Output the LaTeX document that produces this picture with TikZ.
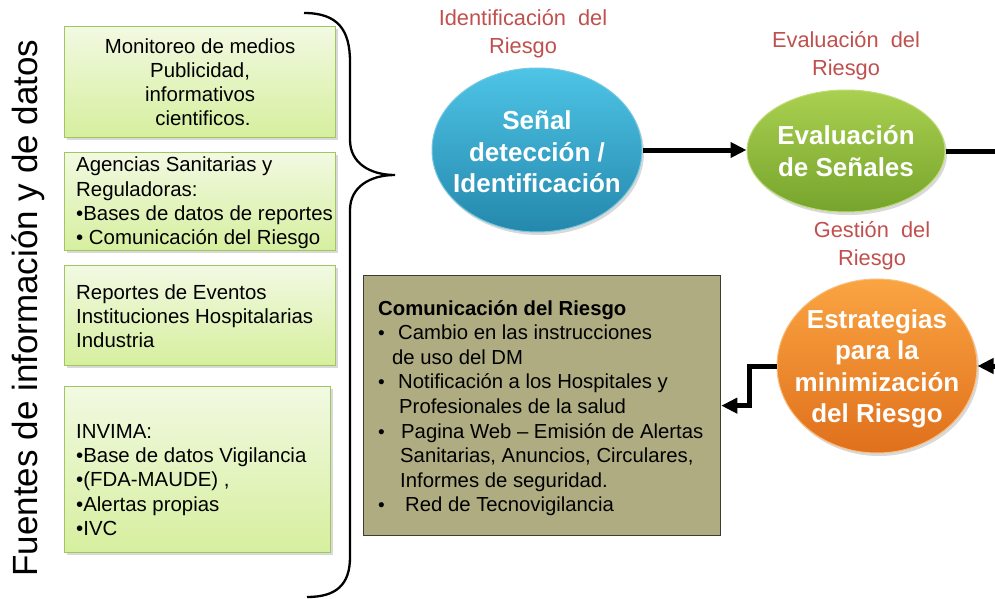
\documentclass[tikz,border=0pt]{standalone}
\usepackage{fontspec}
\setmainfont{Liberation Sans}
\usetikzlibrary{shapes.geometric,arrows.meta,shadows}
\definecolor{gtop}{RGB}{242,249,226}
\definecolor{gbot}{RGB}{214,239,158}
\definecolor{gline}{RGB}{160,198,96}
\definecolor{olivefill}{RGB}{174,172,128}
\definecolor{oliveline}{RGB}{60,60,50}
\definecolor{redlab}{RGB}{192,80,77}
\definecolor{bltop}{RGB}{78,196,230}
\definecolor{blbot}{RGB}{36,136,172}
\definecolor{bline}{RGB}{120,200,225}
\definecolor{grtop}{RGB}{170,208,80}
\definecolor{grbot}{RGB}{118,164,44}
\definecolor{grline}{RGB}{190,220,120}
\definecolor{ortop}{RGB}{250,164,66}
\definecolor{orbot}{RGB}{224,112,28}
\definecolor{orline}{RGB}{250,190,120}
\begin{document}
\begin{tikzpicture}[x=1pt,y=-1pt,
  gbox/.style={draw=gline, line width=1.2pt, top color=gtop, bottom color=gbot, inner sep=0pt,
    drop shadow={shadow xshift=2pt, shadow yshift=-2.5pt, opacity=0.3}},
  btext/.style={inner sep=0pt, font=\fontsize{20.4}{24.2}\selectfont, text=black},
  eshape/.style={ellipse, inner sep=0pt, line width=1pt,
    drop shadow={shadow xshift=2pt, shadow yshift=-3pt, opacity=0.3}},
  etext/.style={inner sep=0pt, align=center, text=white, font=\fontsize{26}{31.5}\selectfont\bfseries},
  rlab/.style={inner sep=0pt, align=center, text=redlab, font=\fontsize{21.8}{28}\selectfont},
  flow/.style={line width=5pt, -{Triangle[length=16pt,width=15pt]}},
  plain/.style={line width=5pt},
  bul/.style={},
  ]
\useasboundingbox (0,0) rectangle (995,599);

% vertical title
\node[anchor=base, rotate=90, inner sep=0pt, font=\fontsize{35}{40}\selectfont] (title) at (37,308) {Fuentes de información y de datos};

% green source boxes
\node[gbox, minimum width=271, minimum height=111, anchor=north west] (b1) at (64,26) {};
\node[btext, align=center] (b1t) at (b1.center) {Monitoreo de medios\\Publicidad,\\informativos\\\ cientificos.};

\node[gbox, minimum width=271, minimum height=98, anchor=north west] (b2) at (64,152) {};
\node[btext, align=left, anchor=west] (b2t) at (76,203) {Agencias Sanitarias y\\Reguladoras:\\•Bases de datos de reportes\\• Comunicación del Riesgo};

\node[gbox, minimum width=271, minimum height=100, anchor=north west] (b3) at (64,265) {};
\node[btext, align=left, anchor=west] (b3t) at (76,316) {Reportes de Eventos\\Instituciones Hospitalarias\\Industria};

\node[gbox, minimum width=266, minimum height=166, anchor=north west] (b4) at (64,386) {};
\node[btext, align=left, anchor=west] (b4t) at (76,480) {INVIMA:\\•Base de datos Vigilancia\\•(FDA-MAUDE) ,\\•Alertas propias\\•IVC};

% brace
\draw[line width=2.3pt] (304,13) .. controls (338,13) and (350,30) .. (350,62)
  -- (350,140) .. controls (350,163) and (370,175) .. (395,175)
  .. controls (370,175) and (350,187) .. (350,210)
  -- (350,557) .. controls (350,585) and (336,597) .. (307,597);

% ellipses
\node[eshape, draw=bline, top color=bltop, bottom color=blbot, minimum width=210, minimum height=164] (sig) at (537,150) {};
\node[etext] (sigt) at ([yshift=-2pt]sig.center) {Señal\\detección /\\Identificación};

\node[eshape, draw=grline, top color=grtop, bottom color=grbot, minimum width=198, minimum height=122] (eval) at (846,151) {};
\node[etext] (evalt) at (eval.center) {Evaluación\\de Señales};

\node[eshape, draw=orline, top color=ortop, bottom color=orbot, minimum width=200, minimum height=174] (strat) at (877,366) {};
\node[etext] (stratt) at ([yshift=-3pt]strat.center) {Estrategias\\para la\\minimización\\del Riesgo};

% red labels
\node[rlab] (lab1) at (523,34) {Identificación\ \ del\\Riesgo};
\node[rlab] (lab2) at (846,56) {Evaluación\ \ del\\Riesgo};
\node[rlab] (lab3) at (872,246) {Gestión\ \ del\\Riesgo};

% olive box
\node[draw=oliveline, fill=olivefill, line width=1.3pt, minimum width=357, minimum height=260, anchor=north west, inner sep=0pt] (com) at (363,275) {};
\node[inner sep=0pt, anchor=north west, align=left, font=\fontsize{20.3}{24.6}\selectfont] (comt) at (378,300) {%
\textbf{Comunicación del Riesgo}\\
\hspace*{0pt}\makebox[20pt][l]{\fontsize{19}{19}\selectfont •}Cambio en las instrucciones\\
\hspace*{14pt}de uso del DM\\
\hspace*{0pt}\makebox[20pt][l]{\fontsize{19}{19}\selectfont •}Notificación a los Hospitales y\\
\hspace*{21pt}Profesionales de la salud\\
\hspace*{0pt}\makebox[23pt][l]{\fontsize{19}{19}\selectfont •}Pagina Web – Emisión de Alertas\\
\hspace*{22pt}Sanitarias, Anuncios, Circulares,\\
\hspace*{22pt}Informes de seguridad.\\
\hspace*{0pt}\makebox[27pt][l]{\fontsize{19}{19}\selectfont •}Red de Tecnovigilancia};

% connectors
\coordinate (rA) at (1000,151);
\coordinate (rB) at (1000,366);
\draw[flow] (sig.east) -- (sig.east -| eval.west);
\draw[plain] (eval.east) -- (rA);
\draw[flow] (rB) -- (strat.east);
\draw[flow] (strat.west) -- ++(-27,0) |- (com.east);
\end{tikzpicture}
\end{document}
